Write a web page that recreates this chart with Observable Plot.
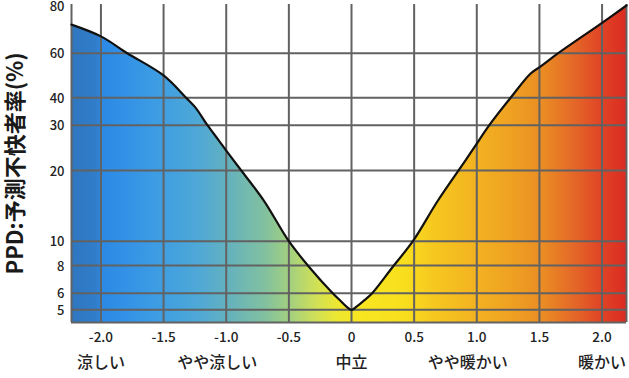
<!DOCTYPE html>
<html><head><meta charset="utf-8">
<script src="https://cdn.jsdelivr.net/npm/d3@7"></script>
<script src="https://cdn.jsdelivr.net/npm/@observablehq/plot@0.6"></script>
<style>
body{margin:0;background:#fff;}
#chart svg{font-family:"Noto Sans CJK JP","Noto Sans",sans-serif;overflow:visible;}
g[aria-label="ytick"] text{letter-spacing:1.5px;}
g[aria-label="xtick"] text{letter-spacing:2px;}
g[aria-label="sensation"] text{letter-spacing:0.6px;}
g[aria-label="ytitle"] text{letter-spacing:2.5px;}
</style></head><body><div id="chart"></div>
<script>
// PMV (x) and PPD (%) values
const pmv = [-2.235,-2.0,-1.79,-1.5,-1.32,-1.245,-1.15,-1.06,-1.0,-0.88,-0.70,-0.5,-0.34,-0.15,-0.09,-0.04,0,
             0.04,0.10,0.165,0.33,0.49,0.69,0.91,0.98,1.10,1.27,1.43,1.51,1.65,1.98,2.195];
const ppd = [71.3,66.4,60,49,40,36.1,30,26.2,23.9,20,14.9,10,7.9,6,5.54,5.18,5.0,
             5.18,5.54,6,7.9,10,14.9,21.9,24.6,30,40,49.9,53.2,60,71.3,80];
const xTicks = [-2,-1.5,-1,-0.5,0,0.5,1,1.5,2];
const xTickLabels = ["-2.0","-1.5","-1.0","-0.5","0","0.5","1.0","1.5","2.0"];
const yTicks = [5,6,8,10,20,30,40,60,80];
const yGrid = [5,6,8,10,20,30,40,60];
const sensationX = [-2,-1,0,1,2];
const sensationLabels = ["涼しい","やや涼しい","中立","やや暖かい","暖かい"];
const yTitle = "PPD:予測不快者率(%)";

const xDomain = [-2.235, 2.195];
const yBottom = 4.4;
const data = pmv.map((x,i)=>({x, y: ppd[i]}));

const gradStops = [
  [0,"#2f76be"],[0.045,"#317dca"],[0.055,"#2b89e6"],[0.15,"#3c9ce4"],[0.23,"#4fa8d6"],
  [0.28,"#63b1bf"],[0.35,"#82c19f"],[0.40,"#a8d27a"],[0.44,"#cfe058"],[0.48,"#ede731"],
  [0.52,"#f8e620"],[0.60,"#f8df1e"],[0.65,"#f6c91f"],[0.73,"#f3b221"],[0.80,"#ee9f22"],
  [0.85,"#ea8c23"],[0.90,"#e56c28"],[0.95,"#e04826"],[1,"#db2a22"]
];

function gradientDefs() {
  const ns = "http://www.w3.org/2000/svg";
  const defs = document.createElementNS(ns, "defs");
  const lg = document.createElementNS(ns, "linearGradient");
  lg.setAttribute("id", "pmvgrad");
  lg.setAttribute("x1", "0"); lg.setAttribute("x2", "1");
  lg.setAttribute("y1", "0"); lg.setAttribute("y2", "0");
  for (const [o, c] of gradStops) {
    const s = document.createElementNS(ns, "stop");
    s.setAttribute("offset", o); s.setAttribute("stop-color", c);
    lg.appendChild(s);
  }
  defs.appendChild(lg);
  return defs;
}

const gridColor = "#626262";
const plot = Plot.plot({
  width: 629, height: 378,
  marginLeft: 71, marginRight: 3, marginTop: 4, marginBottom: 56,
  x: {domain: xDomain, axis: null},
  y: {type: "log", domain: [yBottom,5,6,8,10,20,30,40,60,80],
      range: [322,309.3,292.7,265,240.7,170,124.7,97.3,52.7,5], axis: null},
  marks: [
    gradientDefs,
    Plot.areaY(data, {x: "x", y1: yBottom, y2: "y", fill: "url(#pmvgrad)", curve: "catmull-rom"}),
    Plot.ruleY(yGrid, {stroke: gridColor, strokeWidth: 2}),
    Plot.ruleX(xTicks, {stroke: gridColor, strokeWidth: 2}),
    Plot.ruleX(xDomain, {stroke: gridColor, strokeWidth: 2}),
    Plot.ruleY([yBottom], {stroke: gridColor, strokeWidth: 2}),
    Plot.line(data, {x: "x", y: "y", stroke: "#111", strokeWidth: 2.2, curve: "catmull-rom"}),
    Plot.text(yTicks, {y: d => d, text: d => String(d), frameAnchor: "left", dx: -7, dy: 1,
      textAnchor: "end", fontSize: 13, fontWeight: 500, fill: "#222", ariaLabel: "ytick"}),
    Plot.text(xTicks, {x: d => d, text: (d, i) => xTickLabels[i], frameAnchor: "bottom", dy: 19,
      fontSize: 13.5, fontWeight: 500, fill: "#222", ariaLabel: "xtick"}),
    Plot.text(sensationX, {x: d => d, text: (d, i) => sensationLabels[i], frameAnchor: "bottom", dy: 45,
      dx: 0, fontSize: 16, fontWeight: 500, fill: "#222", ariaLabel: "sensation",
      filter: (d, i) => !sensationLabels[i].startsWith("やや")}),
    Plot.text(sensationX, {x: d => d, text: (d, i) => sensationLabels[i], frameAnchor: "bottom", dy: 45,
      dx: -9, fontSize: 16, fontWeight: 500, fill: "#222", ariaLabel: "sensation",
      filter: (d, i) => sensationLabels[i].startsWith("やや")}),
    Plot.text([yTitle], {text: d => d, frameAnchor: "left", dx: -56, rotate: -90, textAnchor: "middle",
      fontSize: 22, fontWeight: "bold", fill: "#1a1a1a", ariaLabel: "ytitle"})
  ]
});
document.getElementById("chart").appendChild(plot);
</script>
</body></html>
